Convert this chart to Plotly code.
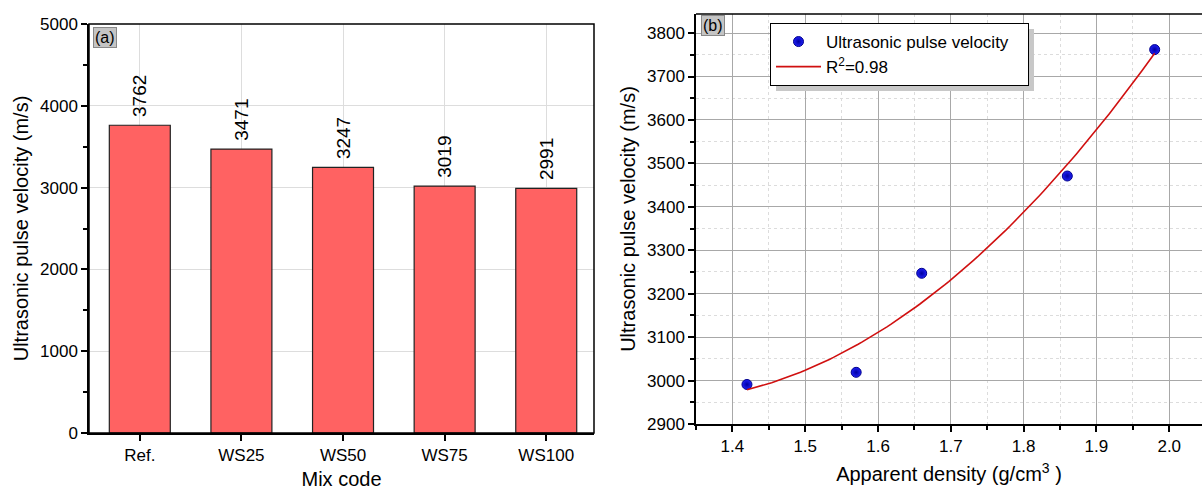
import numpy as np
import plotly.graph_objects as go

# ---- data ----
mix_codes = ["Ref.", "WS25", "WS50", "WS75", "WS100"]
upv = [3762, 3471, 3247, 3019, 2991]

density = [1.42, 1.57, 1.66, 1.86, 1.98]
upv_pts = [2991, 3019, 3247, 3471, 3762]
r2_label = "R<sup>2</sup>=0.98"

# quadratic trend line (fit)
coef = np.polyfit(density, upv_pts, 2)
fit_x = np.linspace(min(density), max(density), 100)
fit_y = np.polyval(coef, fit_x)

W, H = 1202, 491
def px_x(p): return p / W
def px_y(p): return (H - p) / H

FONT = "Liberation Sans, Arial, sans-serif"

fig = go.Figure()

fig.add_trace(go.Bar(
    x=mix_codes, y=upv, width=0.6,
    marker=dict(color="#FF6262", line=dict(color="#222222", width=1.2)),
    text=["\u00a0" + str(v) for v in upv], textposition="outside", textangle=-90,
    textfont=dict(size=19, color="black", family=FONT), cliponaxis=False,
    xaxis="x", yaxis="y", showlegend=False,
))

fig.add_trace(go.Scatter(
    x=density, y=upv_pts, mode="markers", name="Ultrasonic pulse velocity\u00a0\u00a0\u00a0",
    marker=dict(color="#2020F8", size=10, line=dict(color="#00008B", width=1),
                gradient=dict(type="radial", color="#0000A0")),
    xaxis="x2", yaxis="y2",
))
fig.add_trace(go.Scatter(
    x=fit_x, y=fit_y, mode="lines", name=r2_label,
    line=dict(color="#D01010", width=1.6),
    xaxis="x2", yaxis="y2",
))

axis_common = dict(
    showline=True, linecolor="black", linewidth=1.5, mirror=False,
    ticks="outside", ticklen=6, tickwidth=1.5, tickcolor="black",
    tickfont=dict(size=17, family=FONT, color="black"),
    zeroline=False, automargin=False,
)

fig.update_layout(
    width=W, height=H, margin=dict(l=0, r=0, t=0, b=0),
    plot_bgcolor="white", paper_bgcolor="white",
    font=dict(family=FONT, color="black"),
    xaxis=dict(
        domain=[px_x(89), px_x(594)], range=[-0.5, 4.47],
        showgrid=True, gridcolor="#dddddd", gridwidth=1,
        title=dict(text="Mix code", font=dict(size=20, family=FONT), standoff=8),
        anchor="y", **axis_common,
    ),
    yaxis=dict(
        domain=[px_y(433), px_y(24)], range=[0, 5000], dtick=1000,
        showgrid=True, gridcolor="#dddddd", gridwidth=1,
        minor=dict(dtick=500, ticks="outside", ticklen=4, tickwidth=1.5, tickcolor="black", showgrid=False),
        title=dict(text="Ultrasonic pulse velocity (m/s)", font=dict(size=20, family=FONT), standoff=6),
        anchor="x", **axis_common,
    ),
    xaxis2=dict(
        domain=[px_x(696), 1.0], range=[1.35, 2.045], dtick=0.1, tick0=1.4,
        tickformat=".1f",
        showgrid=True, gridcolor="#a8a8a8", gridwidth=1,
        minor=dict(dtick=0.05, ticks="outside", ticklen=4, tickwidth=1.5, tickcolor="black",
                   showgrid=True, gridcolor="#dcdcdc", griddash="dot"),
        title=dict(text="Apparent density (g/cm<sup>3</sup> )", font=dict(size=20, family=FONT), standoff=12),
        anchor="y2", **axis_common,
    ),
    yaxis2=dict(
        domain=[px_y(424), px_y(14)], range=[2900, 3844], dtick=100,
        showgrid=True, gridcolor="#a8a8a8", gridwidth=1,
        minor=dict(dtick=50, ticks="outside", ticklen=4, tickwidth=1.5, tickcolor="black",
                   showgrid=True, gridcolor="#dcdcdc", griddash="dot"),
        title=dict(text="Ultrasonic pulse velocity (m/s)", font=dict(size=20, family=FONT), standoff=6),
        anchor="x2", **axis_common,
    ),
    legend=dict(
        x=px_x(770), y=px_y(23), xanchor="left", yanchor="top",
        bgcolor="white", bordercolor="black", borderwidth=1,
        font=dict(size=17, family=FONT, color="black"),
        tracegroupgap=0, itemwidth=45,
    ),
    bargap=0.4,
)

# frames: left panel full box, right panel top line
fig.add_shape(type="rect", xref="paper", yref="paper",
              x0=px_x(89), x1=px_x(594), y0=px_y(433), y1=px_y(24),
              line=dict(color="black", width=1.5), layer="above")
fig.add_shape(type="line", xref="paper", yref="paper",
              x0=px_x(696), x1=1.0, y0=px_y(14), y1=px_y(14),
              line=dict(color="black", width=1.5), layer="above")
# legend shadow
fig.add_shape(type="rect", xref="paper", yref="paper",
              x0=px_x(776), x1=px_x(1034), y0=px_y(91), y1=px_y(29),
              fillcolor="#c8c8c8", line=dict(width=0), layer="above")

# panel labels
fig.add_annotation(x=px_x(93), y=px_y(27), xref="paper", yref="paper",
                   xanchor="left", yanchor="top", text="(a)", showarrow=False,
                   font=dict(size=16, family=FONT, color="black"),
                   bgcolor="#c4c4c4", bordercolor="#888888", borderwidth=1, borderpad=1)
fig.add_annotation(x=px_x(701), y=px_y(15), xref="paper", yref="paper",
                   xanchor="left", yanchor="top", text="(b)", showarrow=False,
                   font=dict(size=16, family=FONT, color="black"),
                   bgcolor="#c4c4c4", bordercolor="#888888", borderwidth=1, borderpad=1)

fig.write_html("out.html", config={"displayModeBar": False},
               post_script="document.body.style.margin='0';document.body.style.overflow='hidden';")
